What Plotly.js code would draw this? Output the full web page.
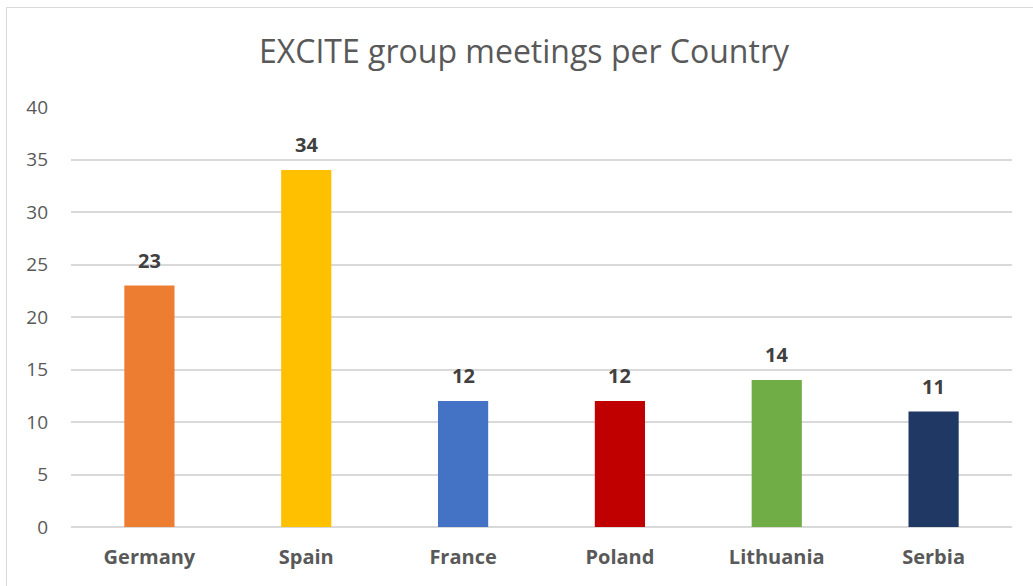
<!DOCTYPE html>
<html>
<head>
<meta charset="utf-8">
<script src="https://cdn.plot.ly/plotly-3.0.1.min.js"></script>
<style>
html,body{margin:0;padding:0;background:#fff;overflow:hidden;}
#chart{width:1033px;height:586px;}
#frame{position:absolute;left:6px;top:7px;width:1100px;height:700px;border:1px solid #d9d9d9;pointer-events:none;}
</style>
</head>
<body>
<div id="chart"></div>
<div id="frame"></div>
<script>
const countries = ["Germany", "Spain", "France", "Poland", "Lithuania", "Serbia"];
const meetings = [23, 34, 12, 12, 14, 11];
const barColors = ["#ED7D31", "#FFC000", "#4472C4", "#C00000", "#70AD47", "#1F3864"];
const yTicks = [0, 5, 10, 15, 20, 25, 30, 35, 40];

const FONT = "'Open Sans', sans-serif";

const trace = {
  type: "bar",
  x: countries,
  y: meetings,
  marker: {color: barColors},
  hoverinfo: "x+y",
  cliponaxis: false
};

const annotations = countries.map((c, i) => ({
  x: c, y: meetings[i], xref: "x", yref: "y",
  text: "<b>" + meetings[i] + "</b>",
  showarrow: false, yanchor: "bottom", yshift: 10,
  font: {family: FONT, size: 20, color: "#404040"}
}));

const layout = {
  width: 1033, height: 586,
  margin: {l: 71, r: 21, t: 107, b: 59},
  paper_bgcolor: "#ffffff", plot_bgcolor: "#ffffff",
  title: {
    text: "EXCITE group meetings per Country",
    x: 524/1033, xref: "container", xanchor: "center",
    y: 1 - 52/586, yref: "container", yanchor: "middle",
    font: {family: FONT, size: 32, color: "#595959"}
  },
  bargap: 0.68,
  showlegend: false,
  xaxis: {
    tickfont: {family: FONT, size: 20, color: "#595959", weight: "bold"},
    ticks: "", showgrid: false, showline: false, zeroline: false,
    ticklabelstandoff: 16, fixedrange: true
  },
  yaxis: {
    range: [0, 40], tickvals: yTicks, ticktext: yTicks.map(String),
    tickfont: {family: FONT, size: 19, color: "#595959"},
    gridcolor: "#d9d9d9", gridwidth: 1.5,
    zeroline: true, zerolinecolor: "#d9d9d9", zerolinewidth: 1.5,
    showline: false, ticks: "", ticklabelstandoff: 22, fixedrange: true
  },
  annotations: annotations,
  font: {family: FONT}
};

Plotly.newPlot("chart", [trace], layout, {displayModeBar: false});
</script>
</body>
</html>
